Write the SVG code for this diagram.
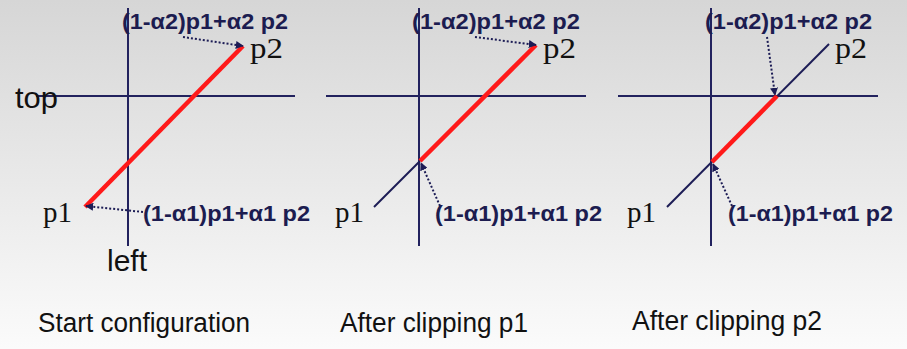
<svg xmlns="http://www.w3.org/2000/svg" width="907" height="349" viewBox="0 0 907 349">
<defs>
<linearGradient id="bg" x1="0" y1="0" x2="0" y2="1">
<stop offset="0" stop-color="#d6d6d6"/>
<stop offset="0.6" stop-color="#ececec"/>
<stop offset="1" stop-color="#fbfbfb"/>
</linearGradient>
<marker id="ah" viewBox="0 0 10 10" refX="9" refY="5" markerWidth="4" markerHeight="4" orient="auto" markerUnits="strokeWidth">
<path d="M0,0 L10,5 L0,10 z" fill="#1c1c55"/>
</marker>
<style>
.axis{stroke:#22225e;stroke-width:2;fill:none}
.seg{stroke:#ff1a1a;stroke-width:4.5;fill:none}
.dark{stroke:#1c1c55;stroke-width:2;fill:none}
.dot{stroke:#1c1c55;stroke-width:2;stroke-dasharray:2 2;fill:none;marker-end:url(#ah)}
.f{font-family:"Liberation Sans",Arial,sans-serif;font-weight:bold;font-size:22px;fill:#1c1c50}
.pt{font-family:"Liberation Serif","Times New Roman",serif;font-size:30px;fill:#111}
.lab{font-family:"Liberation Sans",Arial,sans-serif;font-size:29px;fill:#111}
.cap{font-family:"Liberation Sans",Arial,sans-serif;font-size:27px;fill:#111}
</style>
</defs>
<rect width="907" height="349" fill="url(#bg)"/>

<g id="panel1">
<line class="axis" x1="36" y1="96" x2="295" y2="96"/>
<line class="axis" x1="128" y1="8" x2="128" y2="246"/>
<line class="seg" x1="85" y1="207" x2="243" y2="46"/>
<text class="lab" x="15" y="108" textLength="43" lengthAdjust="spacingAndGlyphs">top</text>
<text class="lab" x="107" y="271" textLength="40" lengthAdjust="spacingAndGlyphs">left</text>
<text class="pt" x="250" y="58" textLength="33" lengthAdjust="spacingAndGlyphs">p2</text>
<text class="pt" x="43" y="222" textLength="29" lengthAdjust="spacingAndGlyphs">p1</text>
<text class="f" x="122" y="29" textLength="166" lengthAdjust="spacingAndGlyphs">(1-α2)p1+α2 p2</text>
<text class="f" x="143" y="221" textLength="167" lengthAdjust="spacingAndGlyphs">(1-α1)p1+α1 p2</text>
</g>

<g id="panel2">
<line class="axis" x1="326" y1="96" x2="586" y2="96"/>
<line class="axis" x1="419" y1="8" x2="419" y2="246"/>
<line class="dark" x1="374" y1="207" x2="420" y2="161"/>
<line class="seg" x1="420" y1="161" x2="536" y2="45"/>
<text class="pt" x="543" y="58" textLength="33" lengthAdjust="spacingAndGlyphs">p2</text>
<text class="pt" x="335" y="222" textLength="29" lengthAdjust="spacingAndGlyphs">p1</text>
<text class="f" x="412" y="29" textLength="168" lengthAdjust="spacingAndGlyphs">(1-α2)p1+α2 p2</text>
<text class="f" x="435" y="221" textLength="167" lengthAdjust="spacingAndGlyphs">(1-α1)p1+α1 p2</text>
</g>

<g id="panel3">
<line class="axis" x1="618" y1="96" x2="878" y2="96"/>
<line class="axis" x1="711" y1="8" x2="711" y2="246"/>
<line class="dark" x1="667" y1="207" x2="829" y2="44"/>
<line class="seg" x1="712" y1="162" x2="777" y2="96"/>
<text class="pt" x="835" y="58" textLength="32" lengthAdjust="spacingAndGlyphs">p2</text>
<text class="pt" x="627" y="222" textLength="29" lengthAdjust="spacingAndGlyphs">p1</text>
<text class="f" x="705" y="29" textLength="167" lengthAdjust="spacingAndGlyphs">(1-α2)p1+α2 p2</text>
<text class="f" x="728" y="221" textLength="165" lengthAdjust="spacingAndGlyphs">(1-α1)p1+α1 p2</text>
</g>

<g id="connectors">
<line class="dot" x1="183" y1="37" x2="243" y2="46"/>
<line class="dot" x1="143" y1="212" x2="86" y2="206"/>
<line class="dot" x1="475" y1="37" x2="536" y2="45"/>
<line class="dot" x1="440" y1="206" x2="421" y2="163"/>
<line class="dot" x1="767" y1="37" x2="775" y2="95"/>
<line class="dot" x1="732" y1="206" x2="713" y2="164"/>
</g>

<g id="captions">
<text class="cap" x="38" y="332" textLength="212" lengthAdjust="spacingAndGlyphs">Start configuration</text>
<text class="cap" x="340" y="332" textLength="188" lengthAdjust="spacingAndGlyphs">After clipping p1</text>
<text class="cap" x="632" y="330" textLength="190" lengthAdjust="spacingAndGlyphs">After clipping p2</text>
</g>
</svg>
